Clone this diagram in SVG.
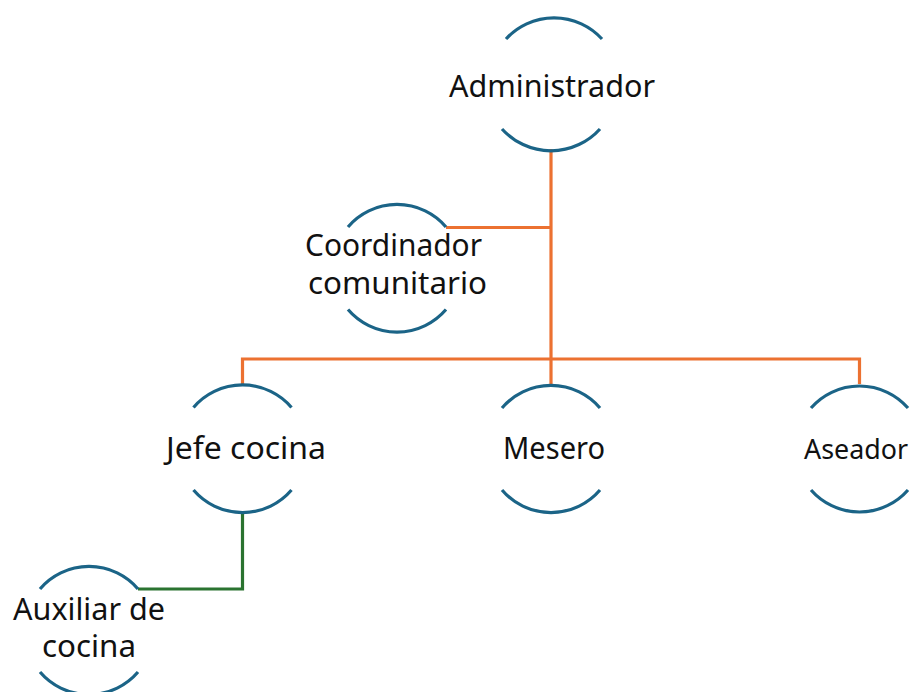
<svg xmlns="http://www.w3.org/2000/svg" width="917" height="692" viewBox="0 0 917 692">
<style>
.arc{fill:none;stroke:#1b6487;stroke-width:3.2;stroke-linecap:butt}
.lbl{font-family:"Noto Sans","Liberation Sans",sans-serif;font-size:30px;fill:#111;text-anchor:middle}
.org{fill:none;stroke:#ec7131;stroke-width:3.2}
.grn{fill:none;stroke:#2a7330;stroke-width:3.2}
</style>
<rect width="917" height="692" fill="#fff"/>
<g id="connectors">
<polyline class="org" points="551,149 551,359"/>
<polyline class="org" points="446,227.5 551,227.5"/>
<polyline class="org" points="242.5,384 242.5,359 859.5,359 859.5,384"/>
<polyline class="org" points="551,359 551,385"/>
<polyline class="grn" points="242.5,513 242.5,589 138,589"/>
</g>
<g id="administrador">
<path class="arc" d="M506,39 A65,65 0 0 1 602,39"/>
<path class="arc" d="M502,129 A66,66 0 0 0 600,129"/>
<text class="lbl" x="552" y="97" textLength="206" lengthAdjust="spacingAndGlyphs">Administrador</text>
</g>
<g id="coordinador">
<path class="arc" d="M348,227 A64.5,64.5 0 0 1 446,227"/>
<path class="arc" d="M348,309.5 A64.5,64.5 0 0 0 446,309.5"/>
<text class="lbl" x="393.5" y="256" textLength="177" lengthAdjust="spacingAndGlyphs">Coordinador</text>
<text class="lbl" x="397.5" y="294" textLength="179" lengthAdjust="spacingAndGlyphs">comunitario</text>
</g>
<g id="jefe">
<path class="arc" d="M193.5,407.5 A64.5,64.5 0 0 1 291.5,407.5"/>
<path class="arc" d="M193.5,490 A64.5,64.5 0 0 0 291.5,490"/>
<text class="lbl" x="246" y="459" textLength="160" lengthAdjust="spacingAndGlyphs">Jefe cocina</text>
</g>
<g id="mesero">
<path class="arc" d="M502,408 A64.5,64.5 0 0 1 600,408"/>
<path class="arc" d="M502,490 A64.5,64.5 0 0 0 600,490"/>
<text class="lbl" x="554" y="459" textLength="102" lengthAdjust="spacingAndGlyphs">Mesero</text>
</g>
<g id="aseador">
<path class="arc" d="M811,408 A64.5,64.5 0 0 1 908,408"/>
<path class="arc" d="M811,490 A64.5,64.5 0 0 0 908,490"/>
<text class="lbl" x="856" y="459" style="font-size:28px" textLength="104" lengthAdjust="spacingAndGlyphs">Aseador</text>
</g>
<g id="auxiliar">
<path class="arc" d="M40,589 A64.5,64.5 0 0 1 138,589"/>
<path class="arc" d="M40,672 A64.5,64.5 0 0 0 138,672"/>
<text class="lbl" x="89" y="620" textLength="152" lengthAdjust="spacingAndGlyphs">Auxiliar de</text>
<text class="lbl" x="89" y="657" textLength="94" lengthAdjust="spacingAndGlyphs">cocina</text>
</g>
</svg>
